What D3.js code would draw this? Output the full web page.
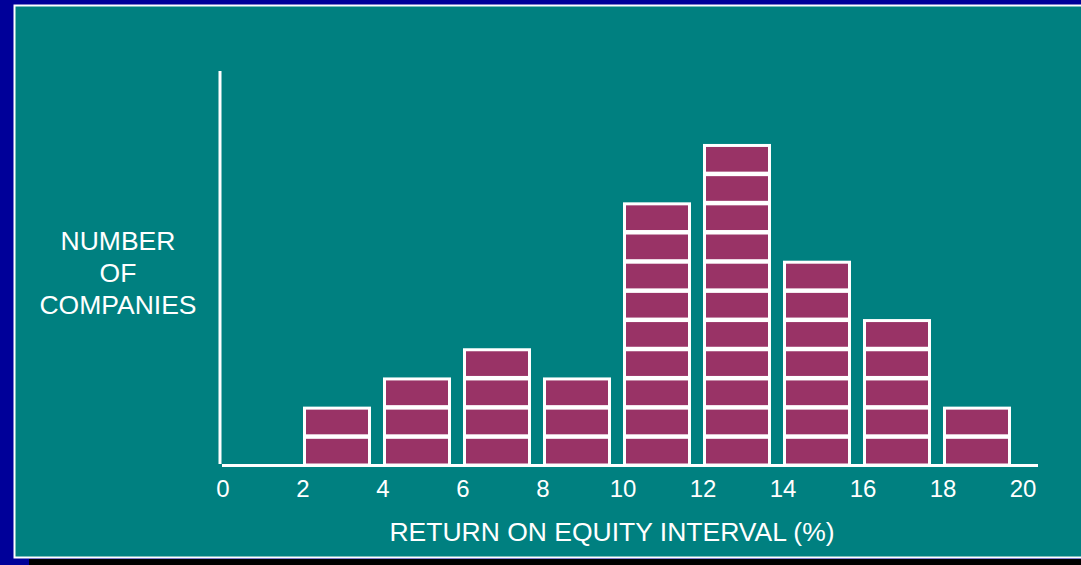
<!DOCTYPE html>
<html>
<head>
<meta charset="utf-8">
<script src="https://cdn.jsdelivr.net/npm/d3@7"></script>
<style>
  body { margin: 0; background: #000099; }
  svg { display: block; font-family: "Liberation Sans", Arial, sans-serif; }
</style>
</head>
<body>
<div id="chart"></div>
<script>
// histogram data: interval start (%) and number of companies
const bins = [2, 4, 6, 8, 10, 12, 14, 16, 18];
const counts = [2, 3, 4, 3, 9, 11, 7, 5, 2];
const ticks = [0, 2, 4, 6, 8, 10, 12, 14, 16, 18, 20];

const width = 1081;
const height = 565;

const svg = d3.select("#chart")
  .append("svg")
  .attr("width", width)
  .attr("height", height);

// frame: blue, black strip at bottom, teal panel with white edge
svg.append("rect").attr("x", 0).attr("y", 0).attr("width", width).attr("height", height).attr("fill", "#000099");
svg.append("rect").attr("x", 29).attr("y", 559).attr("width", width).attr("height", 6).attr("fill", "#000000");
svg.append("rect")
  .attr("x", 14.5).attr("y", 5.5)
  .attr("width", width).attr("height", 552)
  .attr("fill", "#008080")
  .attr("stroke", "#ffffff")
  .attr("stroke-width", 2);

const x = d3.scaleLinear().domain([0, 20]).range([223, 1023]);
const y = d3.scaleLinear().domain([0, 13.5]).range([465, 71]);

// one block per company
const blocks = [];
bins.forEach((b, i) => {
  for (let k = 0; k < counts[i]; k++) blocks.push({start: b, level: k});
});

svg.selectAll(".block")
  .data(blocks)
  .enter()
  .append("rect")
    .attr("class", "block")
    .attr("x", d => x(d.start) + 1.5)
    .attr("y", d => y(d.level + 1) + 1.5)
    .attr("width", x(2) - x(0) - 15)
    .attr("height", y(0) - y(1) - 1.5)
    .attr("fill", "#993366")
    .attr("stroke", "#ffffff")
    .attr("stroke-width", 3);

// axes
svg.append("line")
  .attr("x1", 220).attr("x2", 220)
  .attr("y1", y(13.5)).attr("y2", y(0) - 1)
  .attr("stroke", "#ffffff").attr("stroke-width", 3);

svg.append("line")
  .attr("x1", 222).attr("x2", 1038)
  .attr("y1", y(0) + 0.5).attr("y2", y(0) + 0.5)
  .attr("stroke", "#ffffff").attr("stroke-width", 3);

svg.selectAll(".tick-label")
  .data(ticks)
  .enter()
  .append("text")
    .attr("class", "tick-label")
    .attr("x", d => x(d))
    .attr("y", 497)
    .attr("text-anchor", "middle")
    .attr("fill", "#ffffff")
    .attr("font-size", 24)
    .text(d => d);

// titles
svg.append("text")
  .attr("x", 612).attr("y", 541)
  .attr("text-anchor", "middle")
  .attr("fill", "#ffffff")
  .attr("font-size", 26.5)
  .text("RETURN ON EQUITY INTERVAL (%)");

const ylab = svg.append("text")
  .attr("text-anchor", "middle")
  .attr("fill", "#ffffff")
  .attr("font-size", 26.5);
["NUMBER", "OF", "COMPANIES"].forEach((t, i) => {
  ylab.append("tspan").attr("x", 118).attr("y", 250 + i * 32).text(t);
});
</script>
</body>
</html>
